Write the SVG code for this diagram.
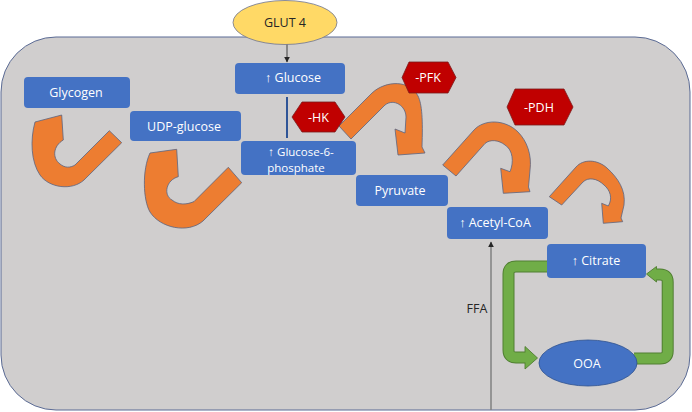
<svg xmlns="http://www.w3.org/2000/svg" width="692" height="412" viewBox="0 0 692 412">
<defs>
<style>
.box{fill:#4472c4;}
.lbl{font-family:"Open Sans","Liberation Sans",sans-serif;font-size:12.5px;fill:#ffffff;text-anchor:middle;dominant-baseline:central;}
.small{font-size:11.5px;}
.dark{fill:#262626;}
.hex{fill:#c00000;stroke:#7a1a1a;stroke-width:0.8;}
.orange{fill:#ed7d31;stroke:#5a6482;stroke-width:0.8;stroke-linejoin:round;}
.gout{fill:none;stroke:#507e32;stroke-width:12;}
.gin{fill:none;stroke:#70ad47;stroke-width:10;}
.ghead{fill:#70ad47;stroke:#507e32;stroke-width:0.9;stroke-linejoin:round;}
</style>
<marker id="ah" viewBox="0 0 10 10" refX="9" refY="5" markerWidth="6" markerHeight="6" orient="auto" markerUnits="userSpaceOnUse">
<path d="M0,0 L10,5 L0,10 z" fill="#262626"/>
</marker>
</defs>
<rect id="cell" x="1" y="37" width="689" height="373" rx="55" ry="55" fill="#d0cece" stroke="#5b6b95" stroke-width="1"/>
<g id="connectors">
<line x1="287" y1="44" x2="287" y2="62" stroke="#404040" stroke-width="1" marker-end="url(#ah)"/>
<line x1="287" y1="97" x2="287" y2="138" stroke="#2f5597" stroke-width="2"/>
<line x1="491" y1="410" x2="491" y2="242" stroke="#808080" stroke-width="1.5" marker-end="url(#ah)"/>
<path class="orange" d="M121.7,142.7 L84,180 C72,191 49,188 40,175 C31,162 30,140 35,122 L61.7,115 L63.3,140 C53,146 52,158 60,164 C65,168 70,168 75,165 L109.3,130.7 Z"/>
<path class="orange" d="M241.7,182.7 L203,221 C188,234 160,228 150,212 C143,200 142,170 150,153 L176.7,149.3 L178.3,176.7 C166,180 163,195 172,200 C178,205 186,205 194,201.6 L228.3,167.3 Z"/>
<path class="orange" d="M339,126 L372,93 C386,80 410,80 418,96 C422,104 423,120 422,147 L425,153 L398,155 L395,129 L405,133 L406,117 C406,106 394,98 385,105 L351,139 Z"/>
<path class="orange" d="M442.7,165 L474,130 C484,119 505,119 518,132 C527,141 532,155 530,170 L528.5,187 L530,191.7 L503.3,193.3 L500.7,168.3 L510,171.7 C514,162 513,150 505,145 C499,140 490,139 485,143.5 L456,176 Z"/>
<path class="orange" d="M549.3,196.7 L576,167 C583,159 597,159 607,168 C618,178 626,190 624,205 L621,218 L622.7,221.7 L603.3,223.3 L601.7,203.3 L608.3,206 C613,198 610,190 604,185 C597,178 588,177 583,182 L561.7,205 Z"/>
<path class="gout" d="M549,266.5 L516,266.5 Q508.5,266.5 508.5,274 L508.5,350 Q508.5,357.5 516,357.5 L526,357.5"/>
<polygon class="ghead" points="525,346.5 537.5,358 525,369"/>
<path class="gin" d="M549,266.5 L516,266.5 Q508.5,266.5 508.5,274 L508.5,350 Q508.5,357.5 516,357.5 L527,357.5"/>
<path class="gout" d="M634,358.5 L660,358.5 Q667.7,358.5 667.7,351 L667.7,282 Q667.7,274.5 660,274.5 L657,274.5"/>
<polygon class="ghead" points="656.5,266.5 646.5,274 656.5,282"/>
<path class="gin" d="M634,358.5 L660,358.5 Q667.7,358.5 667.7,351 L667.7,282 Q667.7,274.5 660,274.5 L655.5,274.5"/>
</g>
<g id="glut4">
<ellipse cx="285" cy="22.5" rx="52" ry="22" fill="#ffd966" stroke="#6d7390" stroke-width="0.8"/>
<text class="lbl dark" x="285" y="22.5">GLUT 4</text>
</g>
<g id="glycogen">
<rect class="box" x="24" y="77" width="106" height="31" rx="4"/>
<text class="lbl" x="76" y="92">Glycogen</text>
</g>
<g id="udpglucose">
<rect class="box" x="130" y="111" width="111" height="30" rx="4"/>
<text class="lbl" x="184" y="126">UDP-glucose</text>
</g>
<g id="glucose">
<rect class="box" x="235" y="63" width="110" height="31" rx="4"/>
<text class="lbl" x="293" y="77.5">↑ Glucose</text>
</g>
<g id="g6p">
<rect class="box" x="241" y="141" width="115" height="34" rx="4"/>
<text class="lbl small"><tspan x="301" y="150.5">↑ Glucose-6-</tspan><tspan x="296" y="166.5">phosphate</tspan></text>
</g>
<g id="hk">
<polygon class="hex" points="292,117 302,102 335,102 345,117 335,132 302,132"/>
<text class="lbl" x="318.5" y="117">-HK</text>
</g>
<g id="pfk">
<polygon class="hex" points="402,77.5 409,62 448,62 456,77.5 448,93 409,93"/>
<text class="lbl" x="428" y="77.5">-PFK</text>
</g>
<g id="pdh">
<polygon class="hex" points="507,107 515,89 564,89 573,107 564,125 515,125"/>
<text class="lbl" x="539" y="107">-PDH</text>
</g>
<g id="pyruvate">
<rect class="box" x="356" y="175" width="92" height="31" rx="4"/>
<text class="lbl" x="400" y="190">Pyruvate</text>
</g>
<g id="acetylcoa">
<rect class="box" x="447" y="207" width="101" height="32" rx="4"/>
<text class="lbl" x="495" y="222.5">↑ Acetyl-CoA</text>
</g>
<g id="citrate">
<rect class="box" x="547" y="244" width="99" height="34" rx="4"/>
<text class="lbl" x="596" y="260">↑ Citrate</text>
</g>
<g id="ooa">
<ellipse cx="588" cy="363" rx="49" ry="23" fill="#4472c4" stroke="#2f528f" stroke-width="0.8"/>
<text class="lbl" x="587" y="363">OOA</text>
</g>
<g id="ffa-label">
<text class="lbl dark" x="477" y="308">FFA</text>
</g>
</svg>
